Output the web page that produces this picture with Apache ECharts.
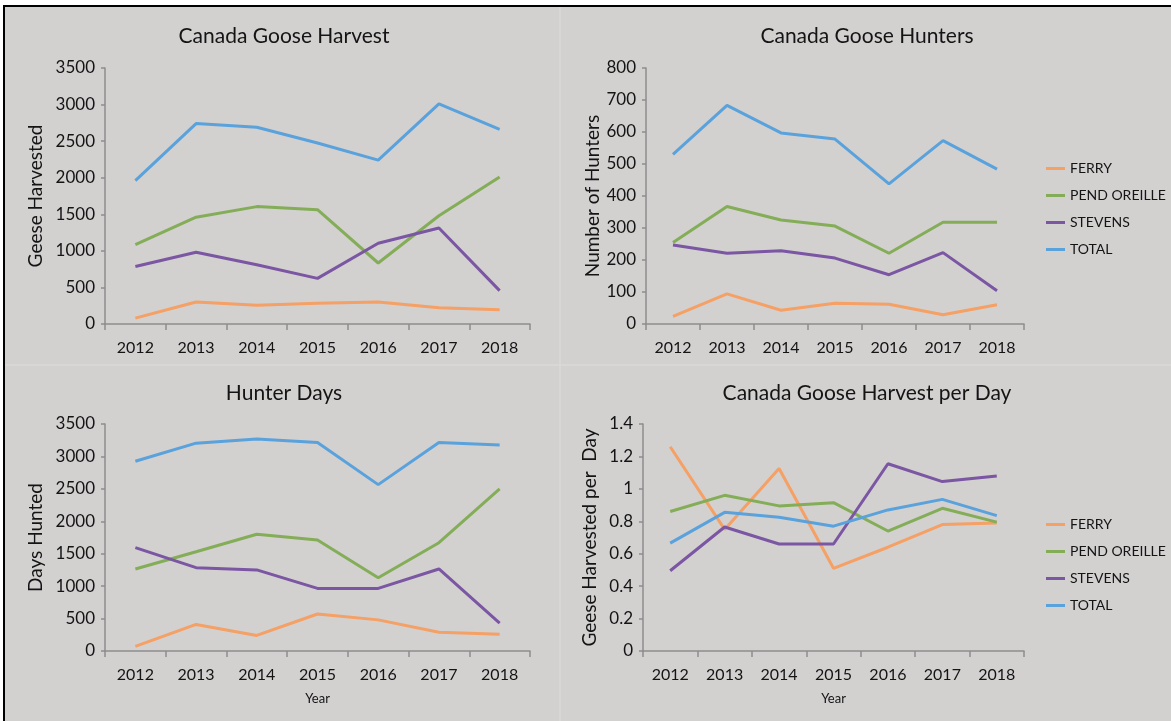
<!DOCTYPE html>
<html>
<head>
<meta charset="utf-8">
<script src="https://cdn.jsdelivr.net/npm/echarts@6/dist/echarts.min.js"></script>
<style>
html,body{margin:0;padding:0;background:#fff;}
#c{width:1171px;height:721px;}
</style>
</head>
<body>
<div id="c"></div>
<script>
const years = ['2012','2013','2014','2015','2016','2017','2018'];
const seriesNames = ['FERRY','PEND OREILLE','STEVENS','TOTAL'];

const harvestFerry   = [80, 300, 255, 283, 300, 223, 196];
const harvestPend    = [1085, 1460, 1605, 1563, 834, 1480, 2010];
const harvestStevens = [785, 980, 811, 624, 1105, 1313, 456];
const harvestTotal   = [1960, 2740, 2690, 2475, 2240, 3010, 2660];

const huntersFerry   = [24, 94, 43, 65, 62, 29, 60];
const huntersPend    = [255, 367, 325, 306, 221, 318, 318];
const huntersStevens = [247, 221, 229, 206, 154, 223, 104];
const huntersTotal   = [530, 683, 597, 578, 438, 573, 484];

const daysFerry   = [70, 410, 240, 570, 480, 290, 260];
const daysPend    = [1265, 1530, 1800, 1710, 1130, 1670, 2500];
const daysStevens = [1595, 1285, 1250, 965, 965, 1265, 430];
const daysTotal   = [2925, 3205, 3270, 3215, 2565, 3215, 3175];

const perDayFerry   = [1.26, 0.75, 1.125, 0.51, 0.64, 0.78, 0.79];
const perDayPend    = [0.86, 0.96, 0.895, 0.915, 0.74, 0.88, 0.795];
const perDayStevens = [0.495, 0.765, 0.66, 0.66, 1.155, 1.045, 1.08];
const perDayTotal   = [0.665, 0.855, 0.825, 0.77, 0.87, 0.935, 0.835];

const titles = ['Canada Goose Harvest','Canada Goose Hunters','Hunter Days','Canada Goose Harvest per Day'];
const yNames = ['Geese Harvested','Number of Hunters','Days Hunted','Geese Harvested per  Day'];

const colors = {'FERRY':'#f5a064','PEND OREILLE':'#84ad58','STEVENS':'#7b56a3','TOTAL':'#5aa2dc'};
const FONT = 'Lato';
const TXT = '#141414';
const AX = '#8e8c8c';

const panels = [
  {data:[harvestFerry,harvestPend,harvestStevens,harvestTotal], max:3500, interval:500},
  {data:[huntersFerry,huntersPend,huntersStevens,huntersTotal], max:800, interval:100},
  {data:[daysFerry,daysPend,daysStevens,daysTotal], max:3500, interval:500},
  {data:[perDayFerry,perDayPend,perDayStevens,perDayTotal], max:1.4, interval:0.2}
];

const grids = [
  {left:105, top:68, width:425, height:256},
  {left:646, top:68, width:378, height:256},
  {left:105, top:424, width:425, height:227},
  {left:643, top:424, width:381, height:227}
];
const nameGaps = [60, 40, 60, 44];
const titlePos = [[279,21],[862,21],[279,378],[862,378]];

const xAxes = [], yAxes = [], series = [], titleArr = [];
grids.forEach((g,i)=>{
  xAxes.push({
    type:'category', gridIndex:i, data:years, boundaryGap:true,
    axisLine:{lineStyle:{color:AX,width:1.5}},
    axisTick:{show:true,length:6,inside:false,lineStyle:{color:AX,width:1.5}},
    axisLabel:{color:TXT,fontFamily:FONT,fontSize:16,margin:16},
    name: i>=2 ? 'Year' : '',
    nameLocation:'middle', nameGap:41,
    nameTextStyle:{color:TXT,fontFamily:FONT,fontSize:13}
  });
  yAxes.push({
    type:'value', gridIndex:i, min:0, max:panels[i].max, interval:panels[i].interval,
    axisLine:{show:true,lineStyle:{color:AX,width:1.5}},
    axisTick:{show:true,length:4,lineStyle:{color:AX,width:1.5}},
    splitLine:{show:false},
    axisLabel:{color:TXT,fontFamily:FONT,fontSize:17,margin:10,
      formatter:function(v){return String(Math.round(v*10)/10);}},
    name:yNames[i], nameLocation:'middle', nameGap:nameGaps[i], nameRotate:90,
    nameTextStyle:{color:TXT,fontFamily:FONT,fontSize:19}
  });
  titleArr.push({
    text:titles[i], left:titlePos[i][0], top:titlePos[i][1], textAlign:'center',
    textStyle:{color:TXT,fontFamily:FONT,fontSize:21,fontWeight:'normal'}
  });
  seriesNames.forEach((n,k)=>{
    series.push({
      type:'line', name:n, xAxisIndex:i, yAxisIndex:i, data:panels[i].data[k],
      symbol:'none', smooth:false,
      lineStyle:{color:colors[n],width:3},
      itemStyle:{color:colors[n]}
    });
  });
});

const legendBase = {
  orient:'vertical', left:1041, icon:'rect', itemWidth:19, itemHeight:3, itemGap:12,
  data:seriesNames, selectedMode:false,
  textStyle:{color:TXT,fontFamily:FONT,fontSize:14,lineHeight:15}
};

const chart = echarts.init(document.getElementById('c'), null, {renderer:'canvas'});
chart.setOption({
  backgroundColor:'#d3d0d0',
  animation:false,
  title:titleArr,
  grid:grids,
  xAxis:xAxes,
  yAxis:yAxes,
  legend:[Object.assign({top:156},legendBase), Object.assign({top:512},legendBase)],
  series:series,
  graphic:[
    {type:'rect', shape:{x:0,y:0,width:1171,height:5}, style:{fill:'#ffffff'}, silent:true},
    {type:'rect', shape:{x:0,y:0,width:3,height:721}, style:{fill:'#ffffff'}, silent:true},
    {type:'rect', shape:{x:3,y:5,width:1168,height:2}, style:{fill:'#000000'}, silent:true},
    {type:'rect', shape:{x:3,y:5,width:2,height:716}, style:{fill:'#000000'}, silent:true},
    {type:'line', shape:{x1:560,y1:7,x2:560,y2:721}, style:{stroke:'#dbd9d9',lineWidth:1.5}, silent:true},
    {type:'line', shape:{x1:5,y1:365,x2:1171,y2:365}, style:{stroke:'#dbd9d9',lineWidth:1.5}, silent:true}
  ]
});
</script>
</body>
</html>
